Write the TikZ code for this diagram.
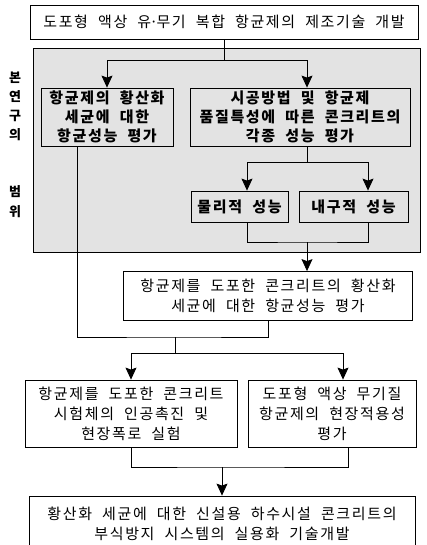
\documentclass[tikz,border=0pt]{standalone}
\usepackage{fontspec}
\setmainfont[LetterSpace=11,WordSpace=2]{Noto Sans CJK KR}
\usetikzlibrary{arrows.meta,positioning}
\tikzset{
  box/.style  = {draw, line width=0.8pt, align=center, inner sep=0pt,
                 font=\fontsize{15}{20}\selectfont},
  sbox/.style = {box, font=\fontsize{15}{19}\selectfont\bfseries},
  wire/.style = {line width=0.8pt},
  arr/.style  = {wire, -{Stealth[length=12pt,width=11pt,inset=2pt]}},
  area/.style = {draw, line width=1pt, fill=gray!22},
  side/.style = {font=\fontsize{13}{13}\selectfont\bfseries, inner sep=0pt},
}
\begin{document}
\begin{tikzpicture}[x=1pt,y=-1pt]
  \useasboundingbox (0,0) rectangle (426,545);
  % scope of this study
  \draw[area] (33,49) rectangle (420,252);
  \foreach \c/\y in {본/78,연/97,구/116,의/135,범/192,위/212}
    \node[side] (side-\y) at (15,\y) {\c};
  % boxes
  \node[box, minimum width=388pt, minimum height=34pt] (top) at (224,22)
    {도포형 액상 유\kern-1.5pt·\kern-1.5pt 무기 복합 항균제의 제조기술 개발};
  \node[sbox, minimum width=132pt, minimum height=58pt] (lft) at (107,117)
    {항균제의 황산화\\세균에 대한\\항균성능 평가};
  \node[sbox, minimum width=220pt, minimum height=58pt] (rgt) at (300,117)
    {시공방법 및 항균제\\품질특성에 따른 콘크리트의\\각종 성능 평가};
  \node[sbox, minimum width=97pt, minimum height=31pt] (phy) at (239.5,206.5) {물리적 성능};
  \node[sbox, minimum width=109pt, minimum height=31pt] (dur) at (353.5,206.5) {내구적 성능};
  \node[box, minimum width=289pt, minimum height=49pt] (mid) at (268,296)
    {항균제를 도포한 콘크리트의 황산화\\세균에 대한 항균성능 평가};
  \node[box, minimum width=212pt, minimum height=67pt] (tst) at (131,413.5)
    {항균제를 도포한 콘크리트\\시험체의 인공촉진 및\\현장폭로 실험};
  \node[box, minimum width=168pt, minimum height=67pt] (fld) at (332,413.5)
    {도포형 액상 무기질\\항균제의 현장적용성\\평가};
  \node[box, minimum width=386pt, minimum height=56pt] (fin) at (222,524)
    {황산화 세균에 대한 신설용 하수시설 콘크리트의\\부식방지 시스템의 실용화 기술개발};
  % connectors
  \draw[wire] (top.south) -- ++(0,21) coordinate (j1);
  \draw[arr] (j1) -| (lft.north);
  \draw[arr] (j1) -| ([xshift=7pt]rgt.north);
  \draw[wire] ([xshift=7pt]rgt.south) -- ++(0,16) coordinate (j2);
  \draw[arr] (j2) -| ([xshift=7.5pt]phy.north);
  \draw[arr] (j2) -| ([xshift=14.5pt]dur.north);
  \coordinate (j3) at (307,242);
  \draw[wire] ([xshift=7.5pt]phy.south) |- (j3) -| ([xshift=14.5pt]dur.south);
  \draw[arr] (j3) -- (j3 |- mid.north);
  \coordinate (j4) at (175,337);
  \draw[wire] ([xshift=-30pt]lft.south) |- (j4) -| (mid.south);
  \draw[wire] (j4) -- ++(0,16) coordinate (j5);
  \draw[arr] (j5) -| (tst.north);
  \draw[arr] (j5) -| ([xshift=11pt]fld.north);
  \coordinate (j6) at (222,467);
  \draw[wire] (tst.south) |- (j6) -| ([xshift=16pt]fld.south);
  \draw[arr] (j6) -- (fin.north);
\end{tikzpicture}
\end{document}
